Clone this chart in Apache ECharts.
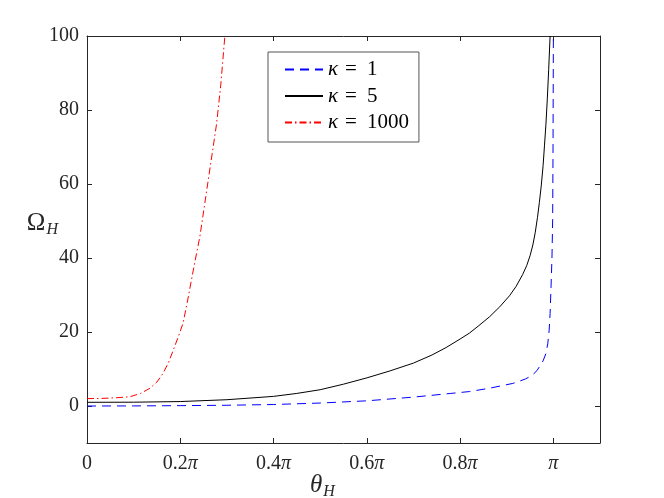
<!DOCTYPE html>
<html>
<head>
<meta charset="utf-8">
<script src="https://cdn.jsdelivr.net/npm/echarts@6/dist/echarts.min.js"></script>
<style>
html,body{margin:0;padding:0;background:#fff;}
#chart{width:664px;height:498px;}
</style>
</head>
<body>
<div id="chart"></div>
<script>
// theta in units of pi, Omega values
const kappa1 = [[0,0],[0.1,0.02],[0.2,0.1],[0.3,0.2],[0.4,0.4],[0.5,0.8],[0.6,1.4],[0.7,2.4],[0.78,3.4],[0.82,3.9],[0.863,4.8],[0.913,6.1],[0.925,6.6],[0.94,7.3],[0.949,7.9],[0.957,8.6],[0.965,9.6],[0.97,10.6],[0.978,12.2],[0.984,14.2],[0.988,16.8],[0.991,20.5],[0.993,25],[0.995,32.2],[0.997,40],[0.9985,50.3],[0.9993,70],[1.0,100]];
const kappa5 = [[0,1.0],[0.1,1.03],[0.2,1.2],[0.3,1.7],[0.4,2.6],[0.45,3.4],[0.5,4.4],[0.55,5.9],[0.6,7.6],[0.65,9.5],[0.7,11.6],[0.74,13.8],[0.77,15.8],[0.8,18.1],[0.82,19.7],[0.84,21.7],[0.863,24.1],[0.885,26.8],[0.906,29.8],[0.92,32.3],[0.934,35.5],[0.943,38],[0.95,40.6],[0.956,43.5],[0.961,46.8],[0.966,51],[0.97,55],[0.974,59.5],[0.978,65],[0.981,70.5],[0.984,76],[0.987,83],[0.99,91],[0.993,100]];
const kappa1000 = [[0,2.0],[0.03,2.05],[0.06,2.2],[0.092,2.5],[0.115,3.4],[0.135,4.8],[0.15,6.5],[0.163,8.8],[0.175,11.8],[0.185,15.1],[0.196,18.8],[0.206,22.4],[0.215,28],[0.224,34.1],[0.233,40],[0.242,45.8],[0.251,53.4],[0.26,61.1],[0.269,68.7],[0.278,76.4],[0.287,87],[0.2955,99.8],[0.296,100]];
const seriesNames = ['κ1','κ5','κ1000'];
const legendLabels = {'κ1':'1','κ5':'5','κ1000':'1000'};
const xTicks = [0,0.2,0.4,0.6,0.8,1];
const xTickLabels = ['0','0.2π','0.4π','0.6π','0.8π','π'];
const yTicks = [0,20,40,60,80,100];

const FONT = '"Liberation Serif", "DejaVu Serif", serif';
const AX = '#262626';
const FS = 20;

const chart = echarts.init(document.getElementById('chart'), null, {renderer:'canvas'});

function xFmt(v){
  const i = xTicks.findIndex(t => Math.abs(t - v) < 1e-9);
  if (i < 0) return '';
  const s = xTickLabels[i];
  if (s.endsWith('π')) return s.slice(0, -1) + '{p|π}';
  return s;
}

const axisCommonX = {
  type:'value', min:0, max:1.1,
  axisLine:{show:true, onZero:false, lineStyle:{color:AX, width:1}},
  splitLine:{show:false},
};
const axisCommonY = {
  type:'value', min:-10, max:100,
  axisLine:{show:true, onZero:false, lineStyle:{color:AX, width:1}},
  splitLine:{show:false},
};

chart.setOption({
  animation:false,
  backgroundColor:'#fff',
  grid:{left:87, top:36, right:64, bottom:55, containLabel:false, outerBoundsMode:'none'},
  xAxis:[
    Object.assign({}, axisCommonX, {
      position:'bottom',
      axisTick:{show:true, inside:true, length:5, customValues:xTicks, lineStyle:{color:AX}},
      axisLabel:{show:true, customValues:xTicks, margin:11, color:AX, fontFamily:FONT, fontSize:FS,
        formatter:xFmt, rich:{p:{fontFamily:FONT, fontSize:FS, fontStyle:'italic', color:AX}}},
      name:'{a|θ}{s|H}',
      nameLocation:'middle',
      nameMoveOverlap:false,
      nameGap:30,
      nameTextStyle:{padding:[0,42,0,0], rich:{
        a:{fontFamily:FONT, fontSize:25, fontStyle:'italic', color:AX, verticalAlign:'top'},
        s:{fontFamily:FONT, fontSize:16, fontStyle:'italic', color:AX, verticalAlign:'top', padding:[11,0,0,1]}
      }}
    }),
    Object.assign({}, axisCommonX, {
      position:'top',
      axisTick:{show:true, inside:true, length:5, customValues:xTicks, lineStyle:{color:AX}},
      axisLabel:{show:false}
    })
  ],
  yAxis:[
    Object.assign({}, axisCommonY, {
      position:'left',
      axisTick:{show:true, inside:true, length:5, customValues:yTicks, lineStyle:{color:AX}},
      axisLabel:{show:true, customValues:yTicks, margin:8, color:AX, fontFamily:FONT, fontSize:FS},
      name:'{a|Ω}{s|H}',
      nameLocation:'middle',
      nameRotate:0,
      nameMoveOverlap:false,
      nameGap:29,
      nameTextStyle:{padding:[0,0,31,0], rich:{
        a:{fontFamily:FONT, fontSize:25, color:AX, verticalAlign:'top'},
        s:{fontFamily:FONT, fontSize:16, fontStyle:'italic', color:AX, verticalAlign:'top', padding:[11,0,0,1]}
      }}
    }),
    Object.assign({}, axisCommonY, {
      position:'right',
      axisTick:{show:true, inside:true, length:5, customValues:yTicks, lineStyle:{color:AX}},
      axisLabel:{show:false}
    })
  ],
  legend:{
    orient:'vertical',
    left:268, top:52,
    data:seriesNames,
    backgroundColor:'#fff',
    borderColor:'#555', borderWidth:1, borderRadius:0,
    padding:[7,10,9,16],
    itemWidth:38, itemHeight:14, itemGap:5.5,
    itemStyle:{color:'rgba(0,0,0,0)', borderWidth:0, opacity:0},
    formatter:n => '{k|κ}{e|=}' + legendLabels[n],
    textStyle:{fontFamily:FONT, fontSize:21, lineHeight:20, color:'#000',
      rich:{
        k:{fontFamily:FONT, fontSize:21, lineHeight:20, fontStyle:'italic', color:'#000'},
        e:{fontFamily:FONT, fontSize:21, lineHeight:20, color:'#000', padding:[0,10,0,7]}
      }}
  },
  series:[
    {name:seriesNames[0], type:'line', data:kappa1, symbol:'none', showSymbol:false, clip:true,
      lineStyle:{color:'#0000ff', width:1, type:[9,6]}, itemStyle:{color:'#0000ff'}},
    {name:seriesNames[1], type:'line', data:kappa5, symbol:'none', showSymbol:false, clip:true,
      lineStyle:{color:'#000000', width:1, type:'solid'}, itemStyle:{color:'#000000'}},
    {name:seriesNames[2], type:'line', data:kappa1000, symbol:'none', showSymbol:false, clip:true,
      lineStyle:{color:'#ff0000', width:1, type:[7,3,1.5,3]}, itemStyle:{color:'#ff0000'}}
  ]
});
</script>
</body>
</html>
